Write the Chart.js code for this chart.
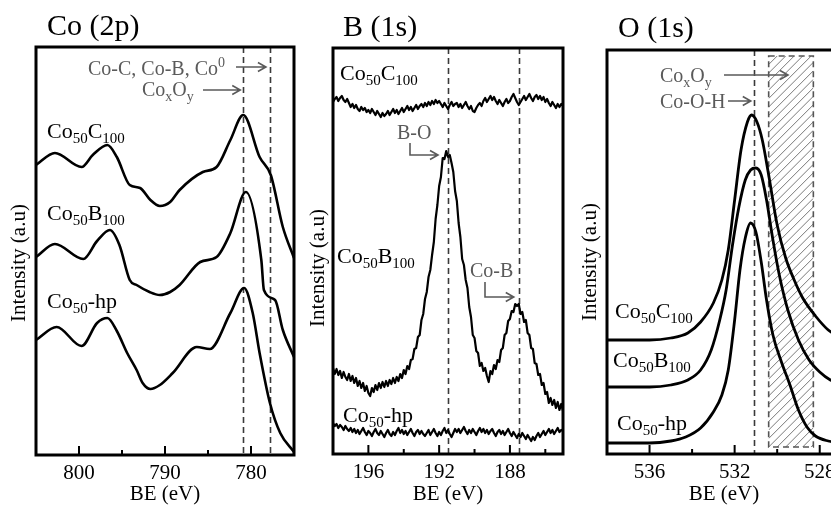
<!DOCTYPE html>
<html>
<head>
<meta charset="utf-8">
<script src="https://cdn.jsdelivr.net/npm/chart.js@4.4.1/dist/chart.umd.min.js"></script>
<style>
  html, body { margin: 0; padding: 0; background: #fff; overflow: hidden; width: 831px; height: 506px; }
  canvas { position: absolute; top: 0; }
</style>
</head>
<body>
<canvas id="co" width="300" height="506" style="left:0px"></canvas>
<canvas id="b" width="280" height="506" style="left:300px"></canvas>
<canvas id="o" width="290" height="506" style="left:570px"></canvas>
<script>
// ---- Co (2p) spectra, BE in eV, intensity in arbitrary units (stacked)
const coBE_C = [805, 802.8, 799.7, 798.4, 796.7, 795.6, 794.1, 792.9, 791.7, 790.6, 789.4, 788.3, 785.6, 784.0, 782.4, 780.9, 779.0, 777.7, 776.3, 775];
const coInt_C = [290, 302, 288, 300, 310, 298, 270, 267, 255, 249, 253, 265, 283, 288, 315, 340, 298, 280, 228, 197];
const coBE_B = [805, 802.8, 799.5, 797.9, 796.4, 795.3, 794.1, 793.3, 791.8, 790.6, 789.4, 788.3, 785.9, 784.0, 782.4, 780.6, 778.8, 778.5, 777.2, 776.3, 775];
const coInt_B = [198, 211, 196, 214, 225, 210, 175, 170, 163, 160, 163, 170, 193, 198, 222, 263, 195, 165, 155, 125, 98];
const coBE_hp = [805, 802.6, 799.7, 797.9, 796.7, 795.6, 794.4, 793.3, 792.6, 791.7, 790.6, 789.1, 786.3, 784.8, 782.4, 780.8, 779.8, 779.0, 777.8, 776.6, 775];
const coInt_hp = [115, 128, 109, 132, 137, 124, 102, 85, 72, 66, 70, 82, 108, 106, 142, 167, 142, 102, 52, 22, 3];
const coMajor = [800, 790, 780];
const coMinor = [795, 785];
const coDashed = [780.9, 777.8];

// ---- B (1s) spectra, sampled every 0.1 eV
const bBE = [
  198, 197.9, 197.8, 197.7, 197.6, 197.5, 197.4, 197.3, 197.2, 197.1,
  197, 196.9, 196.8, 196.7, 196.6, 196.5, 196.4, 196.3, 196.2, 196.1,
  196, 195.9, 195.8, 195.7, 195.6, 195.5, 195.4, 195.3, 195.2, 195.1,
  195, 194.9, 194.8, 194.7, 194.6, 194.5, 194.4, 194.3, 194.2, 194.1,
  194, 193.9, 193.8, 193.7, 193.6, 193.5, 193.4, 193.3, 193.2, 193.1,
  193, 192.9, 192.8, 192.7, 192.6, 192.5, 192.4, 192.3, 192.2, 192.1,
  192, 191.9, 191.8, 191.7, 191.6, 191.5, 191.4, 191.3, 191.2, 191.1,
  191, 190.9, 190.8, 190.7, 190.6, 190.5, 190.4, 190.3, 190.2, 190.1,
  190, 189.9, 189.8, 189.7, 189.6, 189.5, 189.4, 189.3, 189.2, 189.1,
  189, 188.9, 188.8, 188.7, 188.6, 188.5, 188.4, 188.3, 188.2, 188.1,
  188, 187.9, 187.8, 187.7, 187.6, 187.5, 187.4, 187.3, 187.2, 187.1,
  187, 186.9, 186.8, 186.7, 186.6, 186.5, 186.4, 186.3, 186.2, 186.1,
  186, 185.9, 185.8, 185.7, 185.6, 185.5, 185.4, 185.3, 185.2, 185.1,
  185];
const bInt_C = [
  352, 355, 357, 353, 356, 358, 354, 352, 355, 351,
  347, 350, 346, 349, 345, 343, 347, 344, 346, 342,
  344, 341, 345, 342, 339, 343, 340, 337, 341, 338,
  340, 343, 339, 342, 345, 341, 344, 340, 343, 346,
  342, 345, 348, 344, 347, 343, 346, 349, 345, 348,
  350, 347, 351, 348, 352, 349, 353, 350, 354, 351,
  353, 350, 347, 351, 348, 345, 349, 352, 348, 350,
  351, 347, 350, 346, 349, 352, 348, 345, 348, 343,
  342, 346, 349, 351, 348, 353, 356, 352, 355, 358,
  354, 357, 353, 350, 354, 351, 348, 352, 355, 351,
  353, 357, 360, 356, 352, 349, 352, 355, 358, 354,
  357, 360, 356, 353, 357, 359, 355, 358, 354, 357,
  352, 355, 351, 348, 352, 349, 346, 350, 347, 350,
  348];
const bInt_B = [
  86, 80, 85, 79, 83, 76, 82, 77, 74, 80,
  73, 78, 71, 76, 68, 73, 66, 71, 63, 68,
  61, 58, 66, 62, 69, 64, 71, 66, 72, 67,
  73, 68, 74, 70, 76, 71, 77, 73, 80, 76,
  84, 80, 88, 85, 94, 95, 105, 106, 117, 119,
  134, 140, 155, 162, 177, 184, 199, 212, 235, 249,
  268, 277, 296, 295, 303, 297, 299, 291, 282, 263,
  253, 231, 217, 195, 189, 174, 166, 147, 137, 119,
  116, 103, 101, 88, 91, 83, 86, 78, 72, 83,
  80, 89, 85, 94, 92, 104, 106, 119, 121, 133,
  135, 143, 142, 150, 148, 150, 140, 142, 132, 134,
  121, 119, 106, 105, 91, 90, 79, 80, 69, 71,
  60, 62, 51, 56, 49, 54, 46, 52, 44, 50,
  43];
const bInt_hp = [
  31, 28, 30, 26, 29, 27, 24, 28, 25, 23,
  26, 22, 25, 21, 24, 20, 23, 26, 22, 19,
  23, 21, 18, 22, 25, 21, 19, 23, 20, 17,
  21, 24, 20, 18, 22, 19, 23, 26, 21, 24,
  20, 23, 19, 22, 25, 21, 18, 22, 24, 20,
  23, 20, 18, 21, 24, 19, 22, 25, 21, 18,
  22, 19, 23, 26, 21, 24, 20, 17, 21, 25,
  22, 25, 21, 24, 27, 23, 20, 24, 21, 25,
  22, 19, 23, 26, 22, 25, 21, 24, 20, 23,
  25, 21, 18, 22, 24, 20, 23, 19, 22, 25,
  21, 18, 22, 19, 16, 20, 17, 21, 18, 15,
  19, 16, 13, 17, 14, 18, 21, 17, 20, 23,
  19, 22, 25, 21, 24, 20, 23, 26, 22, 24,
  23];
const bMajor = [196, 192, 188];
const bMinor = [194, 190, 186];
const bDashed = [191.5, 187.5];

// ---- O (1s) spectra
const oBE_C = [538, 536, 535, 534.2, 533.6, 533.0, 532.6, 532.3, 532.0, 531.7, 531.4, 531.2, 530.95, 530.7, 530.4, 530.0, 529.6, 529.2, 528.8, 528.2, 527.6, 527.0];
const oInt_C = [114, 114, 116, 121, 132, 151, 174, 204, 254, 304, 332, 339, 332, 314, 279, 229, 196, 174, 156, 138, 124, 116];
const oBE_B = [538, 536, 535, 534.2, 533.6, 533.1, 532.7, 532.4, 532.1, 531.8, 531.5, 531.25, 531.0, 530.75, 530.5, 530.2, 529.9, 529.5, 529.0, 528.5, 528.0, 527.5, 527.0];
const oInt_B = [67, 67, 69, 74, 84, 104, 134, 164, 209, 247, 274, 284, 286, 279, 254, 214, 179, 144, 114, 94, 82, 74, 70];
const oBE_hp = [538, 536, 535, 534.3, 533.6, 533.0, 532.6, 532.3, 532.0, 531.75, 531.5, 531.25, 531.0, 530.75, 530.5, 530.2, 529.8, 529.4, 529.0, 528.6, 528.2, 527.6, 527.0];
const oInt_hp = [11, 11, 13, 17, 26, 42, 59, 84, 134, 184, 216, 231, 222, 192, 154, 119, 92, 69, 44, 27, 18, 13, 11];
const oMajor = [536, 532, 528];
const oMinor = [534, 530];
const oDashed = [531.1];
const oHatch = [530.4, 528.3]; // CoxOy region

const SERIF = '"Liberation Serif", "Times New Roman", serif';
const GRAY = '#5a5a5a';

// text pieces: [text, 0 normal / -1 subscript / 1 superscript]
const lblC = [['Co', 0], ['50', -1], ['C', 0], ['100', -1]];
const lblB = [['Co', 0], ['50', -1], ['B', 0], ['100', -1]];
const lblHp = [['Co', 0], ['50', -1], ['-hp', 0]];
const lblCoxOy = [['Co', 0], ['x', -1], ['O', 0], ['y', -1]];

function toPoints(be, val) {
  return be.map((x, i) => ({ x: x, y: val[i] }));
}

function drawRich(ctx, parts, x, y, size, color) {
  ctx.fillStyle = color;
  ctx.textAlign = 'left';
  ctx.textBaseline = 'alphabetic';
  let cx = x;
  parts.forEach(([t, k]) => {
    const s = k === 0 ? size : Math.round(size * 0.68);
    const dy = k < 0 ? size * 0.24 : (k > 0 ? -size * 0.4 : 0);
    ctx.font = s + 'px ' + SERIF;
    ctx.fillText(t, cx, y + dy);
    cx += ctx.measureText(t).width;
  });
}

function arrow(ctx, pts) {
  ctx.save();
  ctx.strokeStyle = GRAY;
  ctx.lineWidth = 1.6;
  ctx.beginPath();
  ctx.moveTo(pts[0][0], pts[0][1]);
  for (let i = 1; i < pts.length; i++) ctx.lineTo(pts[i][0], pts[i][1]);
  const [ex, ey] = pts[pts.length - 1];
  ctx.moveTo(ex - 8, ey - 4.5);
  ctx.lineTo(ex, ey);
  ctx.lineTo(ex - 8, ey + 4.5);
  ctx.stroke();
  ctx.restore();
}

const panels = [
  {
    id: 'co', title: 'Co (2p)', titlePos: [47, 35], yTitlePos: [19, 263],
    pad: { left: 36, right: 6, top: 47 }, bottom: 455, min: 775, max: 805, ymax: 408,
    major: coMajor, minor: coMinor, dashed: coDashed, lw: 2.6, smooth: true,
    series: [[coBE_C, coInt_C], [coBE_B, coInt_B], [coBE_hp, coInt_hp]],
    labels: [[lblC, 47, 138], [lblB, 47, 220], [lblHp, 47, 308]],
    notes: function (ctx, xs) {
      drawRich(ctx, [['Co-C, Co-B, Co', 0], ['0', 1]], 88, 75, 20, GRAY);
      arrow(ctx, [[236, 67], [xs(coDashed[1]) - 4, 67]]);
      drawRich(ctx, lblCoxOy, 142, 96, 20, GRAY);
      arrow(ctx, [[203, 90], [xs(coDashed[0]) - 3, 90]]);
    }
  },
  {
    id: 'b', title: 'B (1s)', titlePos: [43, 36], yTitlePos: [18, 268],
    pad: { left: 33, right: 17, top: 48 }, bottom: 454, min: 185, max: 198, ymax: 406,
    major: bMajor, minor: bMinor, dashed: bDashed, lw: 2.2, smooth: false,
    series: [[bBE, bInt_C], [bBE, bInt_B], [bBE, bInt_hp]],
    labels: [[lblC, 40, 80], [lblB, 37, 263], [lblHp, 43, 422]],
    notes: function (ctx, xs) {
      drawRich(ctx, [['B-O', 0]], 97, 139, 20, GRAY);
      arrow(ctx, [[110, 143], [110, 155], [xs(bDashed[0]) - 10, 155]]);
      drawRich(ctx, [['Co-B', 0]], 170, 277, 20, GRAY);
      arrow(ctx, [[185, 282], [185, 297], [xs(bDashed[1]) - 5, 297]]);
    }
  },
  {
    id: 'o', title: 'O (1s)', titlePos: [48, 37], yTitlePos: [20, 262],
    pad: { left: 37, right: 19, top: 50 }, bottom: 454, min: 527, max: 538, ymax: 404,
    major: oMajor, minor: oMinor, dashed: oDashed, hatch: oHatch, lw: 2.8, smooth: true,
    series: [[oBE_C, oInt_C], [oBE_B, oInt_B], [oBE_hp, oInt_hp]],
    labels: [[lblC, 45, 318], [lblB, 43, 367], [lblHp, 47, 430]],
    notes: function (ctx, xs) {
      drawRich(ctx, lblCoxOy, 90, 82, 20, GRAY);
      arrow(ctx, [[154, 75], [218, 75]]);
      drawRich(ctx, [['Co-O-H', 0]], 90, 108, 20, GRAY);
      arrow(ctx, [[158, 101], [xs(oDashed[0]) - 3, 101]]);
    }
  }
];

function decorPlugin(p) {
  return {
    id: 'decor_' + p.id,
    beforeDatasetsDraw(chart) {
      const ctx = chart.ctx, a = chart.chartArea, xs = chart.scales.x;
      ctx.save();
      // hatched oxide region
      if (p.hatch) {
        const x1 = xs.getPixelForValue(p.hatch[0]), x2 = xs.getPixelForValue(p.hatch[1]);
        const y1 = a.top + 6, y2 = a.bottom - 7;
        ctx.save();
        ctx.beginPath();
        ctx.rect(x1, y1, x2 - x1, y2 - y1);
        ctx.clip();
        ctx.strokeStyle = '#7a7a7a';
        ctx.lineWidth = 1;
        ctx.beginPath();
        for (let k = y1 - (x2 - x1); k < y2 + (x2 - x1) + 10; k += 8.5) {
          ctx.moveTo(x1, k + (x2 - x1));
          ctx.lineTo(x2, k);
        }
        ctx.stroke();
        ctx.restore();
        ctx.strokeStyle = '#555';
        ctx.lineWidth = 1.6;
        ctx.setLineDash([6, 4]);
        ctx.strokeRect(x1, y1, x2 - x1, y2 - y1);
      }
      // dashed reference lines
      ctx.strokeStyle = '#3a3a3a';
      ctx.lineWidth = 1.6;
      ctx.setLineDash([6, 4]);
      p.dashed.forEach(v => {
        const x = Math.round(xs.getPixelForValue(v)) + 0.5;
        ctx.beginPath();
        ctx.moveTo(x, a.top);
        ctx.lineTo(x, a.bottom);
        ctx.stroke();
      });
      ctx.restore();
    },
    afterDraw(chart) {
      const ctx = chart.ctx, a = chart.chartArea, xs = chart.scales.x;
      const px = v => xs.getPixelForValue(v);
      ctx.save();
      // frame
      ctx.strokeStyle = '#000';
      ctx.lineWidth = 3;
      ctx.strokeRect(a.left, a.top, a.right - a.left, a.bottom - a.top);
      // inward ticks
      ctx.lineWidth = 2;
      ctx.beginPath();
      p.major.forEach(v => { ctx.moveTo(px(v), a.bottom); ctx.lineTo(px(v), a.bottom - 9); });
      p.minor.forEach(v => { ctx.moveTo(px(v), a.bottom); ctx.lineTo(px(v), a.bottom - 5); });
      ctx.stroke();
      // sample labels
      p.labels.forEach(([parts, x, y]) => drawRich(ctx, parts, x, y, 22, '#000'));
      // annotations
      p.notes(ctx, px);
      // panel title
      ctx.fillStyle = '#000';
      ctx.font = '30px ' + SERIF;
      ctx.textAlign = 'left';
      ctx.textBaseline = 'alphabetic';
      ctx.fillText(p.title, p.titlePos[0], p.titlePos[1]);
      // y axis title
      ctx.translate(p.yTitlePos[0], p.yTitlePos[1]);
      ctx.rotate(-Math.PI / 2);
      ctx.font = '21px ' + SERIF;
      ctx.textAlign = 'center';
      ctx.textBaseline = 'middle';
      ctx.fillText('Intensity (a.u)', 0, 0);
      ctx.restore();
    }
  };
}

panels.forEach(p => {
  new Chart(document.getElementById(p.id), {
    type: 'line',
    data: {
      datasets: p.series.map(s => ({
        data: toPoints(s[0], s[1]),
        borderColor: '#000',
        borderWidth: p.lw,
        pointRadius: 0,
        fill: false,
        borderJoinStyle: 'round',
        cubicInterpolationMode: p.smooth ? 'monotone' : 'default',
        tension: 0
      }))
    },
    options: {
      responsive: false,
      animation: false,
      events: [],
      layout: { padding: { left: p.pad.left, right: p.pad.right, top: p.pad.top, bottom: 0 } },
      plugins: { legend: { display: false }, tooltip: { enabled: false } },
      scales: {
        x: {
          type: 'linear',
          reverse: true,
          min: p.min,
          max: p.max,
          afterBuildTicks: s => { s.ticks = p.major.map(v => ({ value: v })); },
          afterFit: s => { s.height = 506 - p.bottom; },
          grid: { display: false, drawTicks: false },
          border: { display: false },
          ticks: { padding: 6, color: '#000', maxRotation: 0, autoSkip: false, font: { family: SERIF, size: 21 } },
          title: { display: true, text: 'BE (eV)', color: '#000', font: { family: SERIF, size: 21, lineHeight: 1 }, padding: { top: 0, bottom: 1 } }
        },
        y: { display: false, min: 0, max: p.ymax }
      }
    },
    plugins: [decorPlugin(p)]
  });
});
</script>
</body>
</html>
